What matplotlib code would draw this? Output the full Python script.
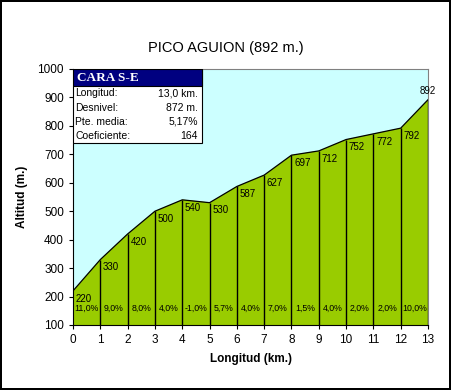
import matplotlib
matplotlib.use("Agg")
import matplotlib.pyplot as plt
from matplotlib.patches import Rectangle

plt.rcParams["font.family"] = ["Liberation Sans", "DejaVu Sans"]

# ── Data ─────────────────────────────────────────────────────────────────────
km        = [0, 1, 2, 3, 4, 5, 6, 7, 8, 9, 10, 11, 12, 13]
altitude  = [220, 330, 420, 500, 540, 530, 587, 627, 697, 712, 752, 772, 792, 892]
slopes    = ["11,0%", "9,0%", "8,0%", "4,0%", "-1,0%", "5,7%", "4,0%",
             "7,0%", "1,5%", "4,0%", "2,0%", "2,0%", "10,0%"]
info_keys = ["Longitud:", "Desnivel:", "Pte. media:", "Coeficiente:"]
info_vals = ["13,0 km.", "872 m.", "5,17%", "164"]

SKY   = "#CCFFFF"
GRASS = "#99CC00"

fig = plt.figure(figsize=(4.51, 3.90), dpi=100)
fig.patch.set_edgecolor("black")
fig.patch.set_linewidth(1.5)
ax = fig.add_axes([0.1619, 0.1667, 0.7871, 0.6564])
ax.set_facecolor(SKY)

# ── Profile ──────────────────────────────────────────────────────────────────
ax.fill_between(km, 100, altitude, color=GRASS, zorder=1)
ax.plot(km, altitude, color="black", lw=0.9, zorder=3)
ax.vlines(km[1:], 100, altitude[1:], color="black", lw=1.0, zorder=2)

for x, y in zip(km, altitude):
    if x == km[-1]:
        ax.annotate(str(y), (x, y), xytext=(0, 3), textcoords="offset points",
                    ha="center", va="bottom", fontsize=7)
    else:
        ax.annotate(str(y), (x, y), xytext=(2, -2), textcoords="offset points",
                    ha="left", va="top", fontsize=7)

for i, s in enumerate(slopes):
    ax.text((km[i] + km[i + 1]) / 2, 158, s, ha="center", va="center",
            fontsize=6.3)

# ── Axes ─────────────────────────────────────────────────────────────────────
ax.set_xlim(0, 13)
ax.set_ylim(100, 1000)
ax.set_xticks(range(0, 14))
ax.set_yticks(range(100, 1001, 100))
ax.tick_params(labelsize=8.5, length=3, direction="out")
for side in ["top", "right"]:
    ax.spines[side].set_color("gray")
ax.set_xlabel("Longitud (km.)", fontsize=8.5, fontweight="bold", labelpad=5)
ax.set_ylabel("Altitud (m.)", fontsize=8.5, fontweight="bold", labelpad=7)
fig.text(0.5, 0.878, "PICO AGUION (892 m.)", ha="center", va="center", fontsize=10.5)

# ── Info box ─────────────────────────────────────────────────────────────────
bx0, bx1 = 0.0, 0.363
by1, by0 = 1.0, 0.711
hdr = 0.068
ax.add_patch(Rectangle((bx0, by0), bx1 - bx0, by1 - by0, transform=ax.transAxes,
                       facecolor="white", edgecolor="black", lw=0.8, zorder=5))
ax.add_patch(Rectangle((bx0, by1 - hdr), bx1 - bx0, hdr, transform=ax.transAxes,
                       facecolor="#000080", edgecolor="black", lw=0.8, zorder=6))
ax.text(bx0 + 0.012, by1 - hdr / 2, "CARA S-E", transform=ax.transAxes,
        color="white", fontweight="bold", fontsize=9.5, family="Liberation Serif",
        va="center", ha="left", zorder=7)
row_h = (by1 - hdr - by0) / len(info_keys)
for i, (k, v) in enumerate(zip(info_keys, info_vals)):
    yy = by1 - hdr - row_h * (i + 0.5)
    ax.text(bx0 + 0.006, yy, k, transform=ax.transAxes, fontsize=7.5,
            va="center", ha="left", zorder=7)
    ax.text(bx1 - 0.012, yy, v, transform=ax.transAxes, fontsize=7.5,
            va="center", ha="right", zorder=7)

fig.savefig("out.png", dpi=100, facecolor="white", edgecolor="black")
